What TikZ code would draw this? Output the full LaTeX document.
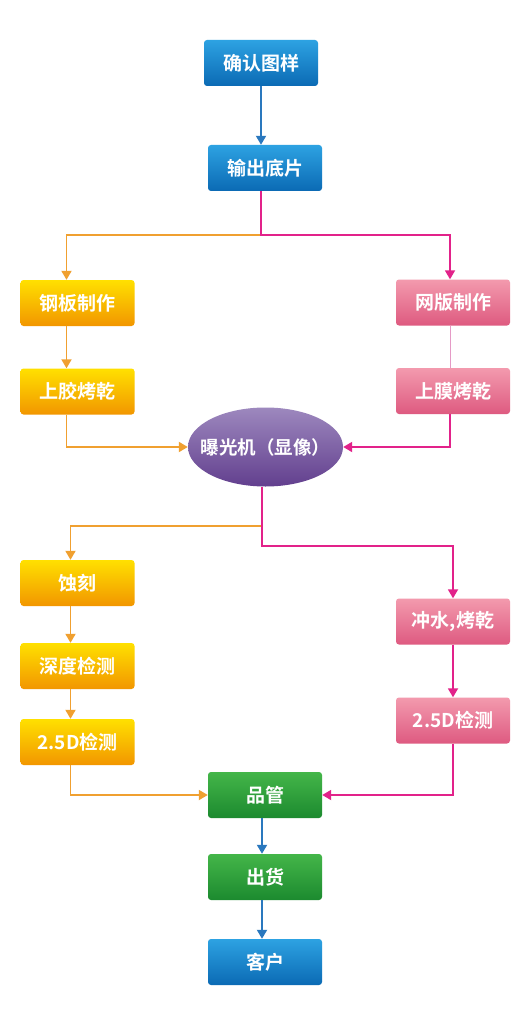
\documentclass[tikz,border=0pt]{standalone}
\usepackage{fontspec}
\setmainfont{Noto Sans CJK SC}[BoldFont={Noto Sans CJK SC Bold}]
\usetikzlibrary{arrows.meta,shapes.geometric,calc}
\definecolor{blueT}{HTML}{2DA2E2}
\definecolor{blueB}{HTML}{0B6AB4}
\definecolor{oraT}{HTML}{FFE000}
\definecolor{oraB}{HTML}{F29600}
\definecolor{pinT}{HTML}{F39AAE}
\definecolor{pinB}{HTML}{DE5A80}
\definecolor{grnT}{HTML}{44B649}
\definecolor{grnB}{HTML}{1C8A2F}
\definecolor{purT}{HTML}{9D88BE}
\definecolor{purB}{HTML}{623F8E}
\definecolor{lineBlue}{HTML}{2A78BE}
\definecolor{lineOra}{HTML}{F0A030}
\definecolor{linePink}{HTML}{E2228A}
\definecolor{linePinkL}{HTML}{E59AC6}
\tikzset{
  x=1pt,y=-1pt,
  stepbox/.style={rounded corners=3pt, minimum width=114pt, minimum height=46pt,
     inner sep=0pt, text=white, font=\bfseries\fontsize{19}{19}\selectfont},
  bluebox/.style={stepbox, top color=blueT, bottom color=blueB},
  orabox/.style={stepbox, top color=oraT, bottom color=oraB},
  pinkbox/.style={stepbox, top color=pinT, bottom color=pinB},
  grnbox/.style={stepbox, top color=grnT, bottom color=grnB},
  tip/.style={-{Triangle[width=10pt,length=9pt]}},
  bl/.style={draw=lineBlue, line width=1.8pt, tip},
  ol/.style={draw=lineOra, line width=1.8pt, tip},
  pl/.style={draw=linePink, line width=1.8pt, tip},
}
\begin{document}
\begin{tikzpicture}
\fill[white] (0,0) rectangle (530,1024);
\useasboundingbox (0,0) rectangle (530,1024);
% nodes
\node[bluebox] (b1) at (261,63) {确认图样};
\node[bluebox] (b2) at (265,168) {输出底片};
\node[orabox] (L1) at (77.5,303) {钢板制作};
\node[orabox] (L2) at (77.5,391.5) {上胶烤乾};
\node[pinkbox] (R1) at (453,302.5) {网版制作};
\node[pinkbox] (R2) at (453,391) {上膜烤乾};
\node[ellipse, minimum width=155pt, minimum height=79pt, inner sep=-12pt,
  top color=purT, bottom color=purB, text=white,
  font=\bfseries\fontsize{18.5}{18.5}\selectfont] (E) at (265.5,447) {曝光机（显像）};
\node[orabox] (L3) at (77.5,583) {蚀刻};
\node[orabox] (L4) at (77.5,666) {深度检测};
\node[orabox] (L5) at (77.5,742) {2.5D检测};
\node[pinkbox] (R3) at (453,621.5) {冲水,烤乾};
\node[pinkbox] (R4) at (453,720.5) {2.5D检测};
\node[grnbox] (Q) at (265,795) {品管};
\node[grnbox] (S) at (265,877) {出货};
\node[bluebox] (C) at (265,962) {客户};
% junction coordinates
\coordinate (j1) at (261,235);
\coordinate (j2) at (262,526);
\coordinate (j3) at (262,546);
% connectors
\draw[bl] (b1.south -| j1) -- (b2.north -| j1);
\draw[ol] (j1) -| ([xshift=-11pt]L1.north);
\draw[pl] (b2.south -| j1) -- (j1) -| ([xshift=-3pt]R1.north);
\draw[ol] ([xshift=-11pt]L1.south) -- ([xshift=-11pt]L2.north);
\draw[draw=linePinkL, line width=0.8pt] ([xshift=-3pt]R1.south) -- ([xshift=-3pt]R2.north);
\draw[ol] ([xshift=-11pt]L2.south) |- (E.west);
\draw[pl] ([xshift=-3pt]R2.south) |- (E.east);
\draw[ol] (j2) -| ([xshift=-7pt]L3.north);
\draw[pl] (E.south -| j3) -- (j3) -| (R3.north);
\draw[ol] ([xshift=-7pt]L3.south) -- ([xshift=-7pt]L4.north);
\draw[ol] ([xshift=-7pt]L4.south) -- ([xshift=-7pt]L5.north);
\draw[pl] (R3.south) -- (R4.north);
\draw[ol] ([xshift=-7pt]L5.south) |- (Q.west);
\draw[pl] (R4.south) |- (Q.east);
\draw[bl] (Q.south -| j2) -- (S.north -| j2);
\draw[bl] (S.south -| j2) -- (C.north -| j2);
\end{tikzpicture}
\end{document}
